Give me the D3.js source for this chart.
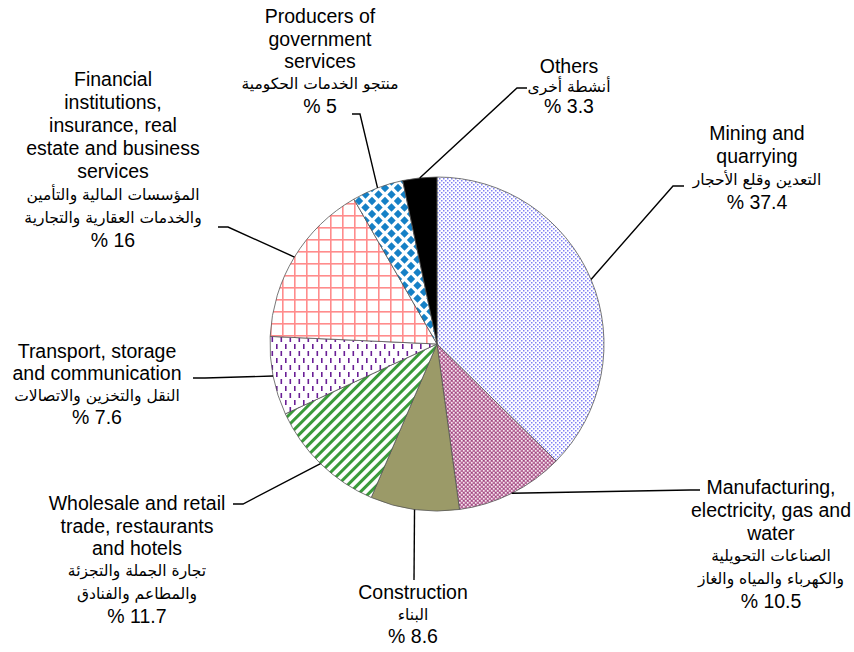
<!DOCTYPE html>
<html>
<head>
<meta charset="utf-8">
<script src="https://cdn.jsdelivr.net/npm/d3@7"></script>
<style>
  html, body { margin: 0; padding: 0; background: #fff; }
  svg { display: block; }
  .en { font-family: "Liberation Sans", Arial, sans-serif; font-size: 19.5px; fill: #000; }
  .ar { font-family: "DejaVu Sans", sans-serif; font-size: 15.5px; fill: #000; }
</style>
</head>
<body>
<svg id="chart" width="854" height="652"></svg>
<script>
// Sector shares of GDP (%)
const categories = [
  "Mining and quarrying",
  "Manufacturing, electricity, gas and water",
  "Construction",
  "Wholesale and retail trade, restaurants and hotels",
  "Transport, storage and communication",
  "Financial institutions, insurance, real estate and business services",
  "Producers of government services",
  "Others"
];
const values = [37.4, 10.5, 8.6, 11.7, 7.6, 16, 5, 3.3];

// English label lines
const englishLines = [
  ["Mining and", "quarrying"],
  ["Manufacturing,", "electricity, gas and", "water"],
  ["Construction"],
  ["Wholesale and retail", "trade, restaurants", "and hotels"],
  ["Transport, storage", "and communication"],
  ["Financial", "institutions,", "insurance, real", "estate and business", "services"],
  ["Producers of", "government", "services"],
  ["Others"]
];

// Arabic label lines
const arabicLines = [
  ["التعدين وقلع الأحجار"],
  ["الصناعات التحويلية", "والكهرباء والمياه والغاز"],
  ["البناء"],
  ["تجارة الجملة والتجزئة", "والمطاعم والفنادق"],
  ["النقل والتخزين والاتصالات"],
  ["المؤسسات المالية والتأمين", "والخدمات العقارية والتجارية"],
  ["منتجو الخدمات الحكومية"],
  ["أنشطة أخرى"]
];

// Label placement and leader-line geometry
const labelLayout = [
  { x: 757, y: 133, step: 23,   elbow: [673, 186], end: [684, 186] },
  { x: 771, y: 487, step: 22.8, elbow: [690, 490], end: [700, 490] },
  { x: 413, y: 592, step: 22,   elbow: null,       end: [414, 580] },
  { x: 137, y: 503, step: 22.6, elbow: [243, 504], end: [233, 504] },
  { x: 97,  y: 351, step: 22,   elbow: [205, 378], end: [193, 378] },
  { x: 113, y: 79,  step: 23,   elbow: [228, 227], end: [218, 227] },
  { x: 320, y: 16,  step: 22.5, elbow: [360, 114], end: [352, 114] },
  { x: 569, y: 66,  step: 20,   elbow: [517, 88],  end: [527, 88] }
];

const fills = [
  "url(#pDots)", "url(#pMauve)", "#9b9a68", "url(#pStripes)",
  "url(#pDashes)", "url(#pGrid)", "url(#pDiamonds)", "#000"
];

const svg = d3.select("#chart");
const cx = 437, cy = 344, r = 167;

// Fill patterns
const defs = svg.append("defs");

const dots = defs.append("pattern").attr("id", "pDots")
  .attr("patternUnits", "userSpaceOnUse").attr("width", 4).attr("height", 4);
dots.append("rect").attr("width", 4).attr("height", 4).attr("fill", "#fff");
dots.append("rect").attr("x", 0).attr("y", 0).attr("width", 1.5).attr("height", 1.5).attr("fill", "#8080f4");
dots.append("rect").attr("x", 2).attr("y", 2).attr("width", 1.5).attr("height", 1.5).attr("fill", "#8080f4");

const mauve = defs.append("pattern").attr("id", "pMauve")
  .attr("patternUnits", "userSpaceOnUse").attr("width", 4).attr("height", 4);
mauve.append("rect").attr("width", 4).attr("height", 4).attr("fill", "#b86a9a");
mauve.append("rect").attr("x", 0).attr("y", 0).attr("width", 1.6).attr("height", 1.6).attr("fill", "#f6e8f0");
mauve.append("rect").attr("x", 2).attr("y", 2).attr("width", 1.6).attr("height", 1.6).attr("fill", "#f6e8f0");
mauve.append("rect").attr("x", 2).attr("y", 0).attr("width", 1).attr("height", 1).attr("fill", "#9a4a7e");

const stripes = defs.append("pattern").attr("id", "pStripes")
  .attr("patternUnits", "userSpaceOnUse").attr("width", 7).attr("height", 7)
  .attr("patternTransform", "rotate(45)");
stripes.append("rect").attr("width", 7).attr("height", 7).attr("fill", "#fff");
stripes.append("rect").attr("x", 0).attr("y", 0).attr("width", 3).attr("height", 7).attr("fill", "#3a9a3a");

const dashes = defs.append("pattern").attr("id", "pDashes")
  .attr("patternUnits", "userSpaceOnUse").attr("width", 9).attr("height", 14);
dashes.append("rect").attr("width", 9).attr("height", 14).attr("fill", "#fff");
dashes.append("rect").attr("x", 1).attr("y", 0).attr("width", 1.6).attr("height", 5).attr("fill", "#6a1f96");
dashes.append("rect").attr("x", 5.5).attr("y", 7).attr("width", 1.6).attr("height", 5).attr("fill", "#6a1f96");

const grid = defs.append("pattern").attr("id", "pGrid")
  .attr("patternUnits", "userSpaceOnUse").attr("width", 12).attr("height", 12)
  .attr("x", 1).attr("y", 3);
grid.append("rect").attr("width", 12).attr("height", 12).attr("fill", "#fff");
grid.append("rect").attr("x", 0).attr("y", 0).attr("width", 1.6).attr("height", 12).attr("fill", "#ff8c8c");
grid.append("rect").attr("x", 0).attr("y", 0).attr("width", 12).attr("height", 1.6).attr("fill", "#ff8c8c");

const diam = defs.append("pattern").attr("id", "pDiamonds")
  .attr("patternUnits", "userSpaceOnUse").attr("width", 13).attr("height", 13);
diam.append("rect").attr("width", 13).attr("height", 13).attr("fill", "#fff");
[[0, 0], [13, 0], [0, 13], [13, 13], [6.5, 6.5]].forEach(([dx, dy]) => {
  diam.append("path")
    .attr("d", `M${dx},${dy - 4.2}L${dx + 4.2},${dy}L${dx},${dy + 4.2}L${dx - 4.2},${dy}Z`)
    .attr("fill", "#1580c6");
});

// Pie
const pie = d3.pie().sort(null).value(d => d);
const arcs = pie(values);
const arc = d3.arc().innerRadius(0).outerRadius(r);
const edge = d3.arc().innerRadius(r).outerRadius(r);

const g = svg.append("g").attr("transform", `translate(${cx},${cy})`);
g.selectAll("path.slice")
  .data(arcs)
  .join("path")
  .attr("class", "slice")
  .attr("d", arc)
  .attr("fill", (d, i) => fills[i])
  .attr("stroke", "#555")
  .attr("stroke-width", 0.8);

// Leader lines
arcs.forEach((d, i) => {
  const L = labelLayout[i];
  const [ex, ey] = edge.centroid(d);
  const pts = [[cx + ex, cy + ey]];
  if (L.elbow) pts.push(L.elbow);
  pts.push(L.end);
  svg.append("path")
    .attr("d", d3.line()(pts))
    .attr("fill", "none")
    .attr("stroke", "#000")
    .attr("stroke-width", 1.4);
});

// Labels: English lines, Arabic lines, then the share
categories.forEach((c, i) => {
  const L = labelLayout[i];
  let row = 0;
  const t = svg.append("g");
  englishLines[i].forEach(s => {
    t.append("text").attr("class", "en")
      .attr("x", L.x).attr("y", L.y + row * L.step + 7)
      .attr("text-anchor", "middle").text(s);
    row++;
  });
  arabicLines[i].forEach(s => {
    t.append("text").attr("class", "ar")
      .attr("x", L.x).attr("y", L.y + row * L.step + 5.5)
      .attr("text-anchor", "middle").attr("direction", "rtl").text(s);
    row++;
  });
  t.append("text").attr("class", "en")
    .attr("x", L.x).attr("y", L.y + row * L.step + 7)
    .attr("text-anchor", "middle").text("% " + values[i]);
});
</script>
</body>
</html>
